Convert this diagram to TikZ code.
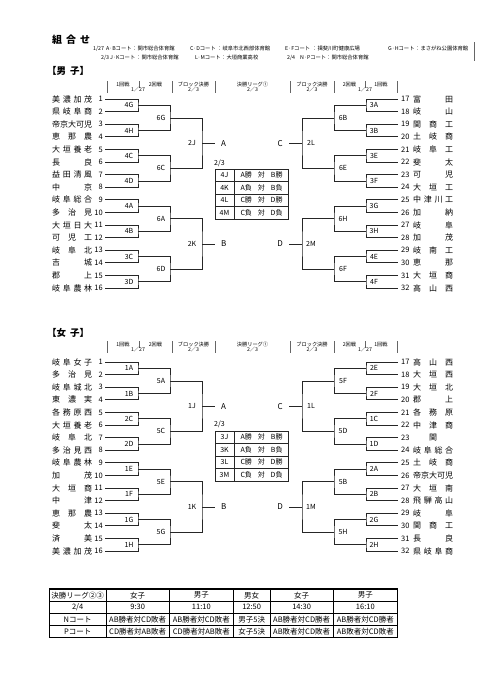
\documentclass[tikz,border=0pt]{standalone}
\usepackage{fontspec}
\setmainfont{Noto Sans CJK JP}
\usetikzlibrary{calc}
\usetikzlibrary{positioning}

\newcommand\tname[1]{\makebox[40pt][s]{#1}}
\newcommand\vsname[1]{\makebox[42pt][s]{#1}}

\begin{document}
\begin{tikzpicture}[x=1pt,y=-1pt]
	\useasboundingbox (0,0) rectangle (481,680);

	\tikzstyle{team} = [inner sep=0pt,font=\fontsize{8}{9}\selectfont]
	\tikzstyle{num} = [inner sep=0pt,font=\fontsize{7.5}{9}\selectfont]
	\tikzstyle{mlbl} = [inner sep=0pt,font=\fontsize{7}{8}\selectfont]
	\tikzstyle{grp} = [inner ysep=0pt,inner xsep=6pt,font=\fontsize{8}{9}\selectfont]
	\tikzstyle{wire} = [line width=0.75pt,black!85]
	\tikzstyle{hbar} = [line width=0.5pt,black!60]
	\tikzstyle{hdr} = [inner sep=0pt,font=\fontsize{5.2}{6}\selectfont]
	\tikzstyle{info} = [inner sep=0pt,anchor=west,font=\fontsize{5.3}{6}\selectfont]
	\tikzstyle{cell} = [inner sep=0pt,font=\fontsize{7}{8}\selectfont]
	\tikzstyle{tcell} = [inner sep=0pt,font=\fontsize{7.5}{8}\selectfont]

	% title and venues
	\node[inner sep=0pt,anchor=west,font=\fontsize{10}{11}\selectfont\bfseries] (title) at (52,40) {\makebox[38pt][s]{組 合 せ}};
	\node[info] (v1) at (93,48.5) {1/27};
	\node[info] (v2) at (106,48.5) {A·Bコート};
	\node[info] (v3) at (132,48.5) {：関市総合体育館};
	\node[info] (v4) at (190,48.5) {C·Dコート};
	\node[info] (v5) at (217,48.5) {：岐阜市北西部体育館};
	\node[info] (v6) at (285,48.5) {E·Fコート};
	\node[info] (v7) at (312,48.5) {：揖斐川町健康広場};
	\node[info] (v8) at (388,48.5) {G·Hコート};
	\node[info] (v9) at (415,48.5) {：まさがね公園体育館};
	\node[info] (w1) at (101,57.5) {2/3};
	\node[info] (w2) at (110,57.5) {J·Kコート};
	\node[info] (w3) at (136,57.5) {：関市総合体育館};
	\node[info] (w4) at (195,57.5) {L·Mコート};
	\node[info] (w5) at (221,57.5) {：大垣商業高校};
	\node[info] (w6) at (287,57.5) {2/4};
	\node[info] (w7) at (300,57.5) {N·Pコート};
	\node[info] (w8) at (326,57.5) {：関市総合体育館};
	\draw[hbar] (474,42) -- (474,61);

	\node[inner sep=0pt,anchor=west,font=\fontsize{9.5}{10}\selectfont\bfseries] (male) at (47,71) {【男\hspace{4pt}子】};
	\node[inner sep=0pt,anchor=west,font=\fontsize{9.5}{10}\selectfont\bfseries] (female) at (47,333) {【女\hspace{4pt}子】};

	% round headers
	\foreach \h in {81,341}{
		\foreach \x in {107,172,215,290,334,397}
			\draw[hbar] (\x,\h) -- (\x,{\h+12});
		\draw[hbar] (139,\h) -- (139,{\h+6.5});
		\draw[hbar] (365,\h) -- (365,{\h+6.5});
		\node[hdr] (r1a\h) at (123,{\h+3.4}) {1回戦};
		\node[hdr] (r2a\h) at (155.5,{\h+3.4}) {2回戦};
		\node[hdr] (d1a\h) at (138,{\h+8.8}) {1／27};
		\node[hdr] (bfa\h) at (193.5,{\h+3.4}) {ブロック決勝};
		\node[hdr] (dba\h) at (193.5,{\h+8.8}) {2／3};
		\node[hdr] (fl\h) at (252.5,{\h+3.4}) {決勝リーグ①};
		\node[hdr] (dl\h) at (252.5,{\h+8.8}) {2／3};
		\node[hdr] (bfb\h) at (312,{\h+3.4}) {ブロック決勝};
		\node[hdr] (dbb\h) at (312,{\h+8.8}) {2／3};
		\node[hdr] (r2b\h) at (349.5,{\h+3.4}) {2回戦};
		\node[hdr] (r1b\h) at (381,{\h+3.4}) {1回戦};
		\node[hdr] (d1b\h) at (365,{\h+8.8}) {1／27};
	}

	% male teams
	\foreach \n/\t in {1/美 濃 加 茂,2/県 岐 阜 商,3/帝京大可児,4/恵 那 農,5/大 垣 養 老,6/長 良,7/益 田 清 風,8/中 京,
		9/岐 阜 総 合,10/多 治 見,11/大 垣 日 大,12/可 児 工,13/岐 阜 北,14/吉 城,15/郡 上,16/岐 阜 農 林}{
		\pgfmathsetmacro\yy{99+(\n-1)*12.6}
		\node[team,anchor=west] (mt\n) at (52,\yy) {\tname{\t}};
		\node[num,anchor=east] (mn\n) at (103,\yy) {\n};
		\coordinate (m\n) at (105,\yy);
	}
	\foreach \n/\t in {17/富 田,18/岐 山,19/関 商 工,20/土 岐 商,21/岐 阜 工,22/斐 太,23/可 児,24/大 垣 工,
		25/中 津 川 工,26/加 納,27/岐 阜,28/加 茂,29/岐 南 工,30/恵 那,31/大 垣 商,32/高 山 西}{
		\pgfmathsetmacro\yy{99+(\n-17)*12.6}
		\node[num,anchor=west] (mn\n) at (401,\yy) {\n};
		\node[team,anchor=west] (mt\n) at (413,\yy) {\tname{\t}};
		\coordinate (m\n) at (398,\yy);
	}

	% male matches
	\foreach \l/\a/\b/\s/\o in {4G/1/2/33/-9,4H/3/4/33/-9,4C/5/6/33/-9,4D/7/8/33/-9,
		4A/9/10/33/-9,4B/11/12/33/-9,3C/13/14/33/-9,3D/15/16/33/-9,
		3A/17/18/-32/8,3B/19/20/-32/8,3E/21/22/-32/8,3F/23/24/-32/8,
		3G/25/26/-32/8,3H/27/28/-32/8,4E/29/30/-32/8,4F/31/32/-32/8,
		6G/4G/4H/32/-9,6C/4C/4D/32/-9,6A/4A/4B/32/-9,6D/3C/3D/32/-9,
		6B/3A/3B/-32/9,6E/3E/3F/-32/9,6H/3G/3H/-32/9,6F/4E/4F/-32/9,
		2J/6G/6C/32/-10,2K/6A/6D/32/-10,2L/6B/6E/-32/9,2M/6H/6F/-32/9}{
		\coordinate (m\l) at ($(m\a)!0.5!(m\b)+(\s,0)$);
		\draw[wire] (m\a) -| (m\l) |- (m\b);
		\node[mlbl] (ml\l) at ($(m\l)+(\o,0)$) {\l};
	}
	\node[grp,anchor=west] (mA) at ($(m2J)+(13,0)$) {A};
	\node[grp,anchor=west] (mB) at ($(m2K)+(13,0)$) {B};
	\node[grp,anchor=east] (mC) at ($(m2L)+(-13,0)$) {C};
	\node[grp,anchor=east] (mD) at ($(m2M)+(-13,0)$) {D};
	\draw[wire] (m2J) -- (mA);
	\draw[wire] (m2K) -- (mB);
	\draw[wire] (m2L) -- (mC);
	\draw[wire] (m2M) -- (mD);

	% male league table
	\node[cell,anchor=west] (mdate) at (214,163) {2/3};
	\draw[wire] (215,169) rectangle (288,219);
	\draw[wire] (234,169) -- (234,219);
	\foreach \y in {181.5,194,206.5}
		\draw[wire] (215,\y) -- (288,\y);
	\foreach \c/\t [count=\k] in {4J/A勝 対 B勝,4K/A負 対 B負,4L/C勝 対 D勝,4M/C負 対 D負}{
		\node[cell] (mc\c) at (224.5,{162.75+12.5*\k}) {\c};
		\node[cell] (mv\c) at (261.5,{162.75+12.5*\k}) {\vsname{\t}};
	}

	% female teams
	\foreach \n/\t in {1/岐 阜 女 子,2/多 治 見,3/岐 阜 城 北,4/東 濃 実,5/各 務 原 西,6/大 垣 養 老,7/岐 阜 北,8/多 治 見 西,
		9/岐 阜 農 林,10/加 茂,11/大 垣 商,12/中 津,13/恵 那 農,14/斐 太,15/済 美,16/美 濃 加 茂}{
		\pgfmathsetmacro\yy{362+(\n-1)*12.6}
		\node[team,anchor=west] (ft\n) at (52,\yy) {\tname{\t}};
		\node[num,anchor=east] (fn\n) at (103,\yy) {\n};
		\coordinate (f\n) at (105,\yy);
	}
	\foreach \n/\t in {17/高 山 西,18/大 垣 西,19/大 垣 北,20/郡 上,21/各 務 原,22/中 津 商,23/\hfil 関\hfil,24/岐 阜 総 合,
		25/土 岐 商,26/帝京大可児,27/大 垣 南,28/飛 騨 高 山,29/岐 阜,30/関 商 工,31/長 良,32/県 岐 阜 商}{
		\pgfmathsetmacro\yy{362+(\n-17)*12.6}
		\node[num,anchor=west] (fn\n) at (401,\yy) {\n};
		\node[team,anchor=west] (ft\n) at (413,\yy) {\tname{\t}};
		\coordinate (f\n) at (398,\yy);
	}

	% female matches
	\foreach \l/\a/\b/\s/\o in {1A/1/2/33/-9,1B/3/4/33/-9,2C/5/6/33/-9,2D/7/8/33/-9,
		1E/9/10/33/-9,1F/11/12/33/-9,1G/13/14/33/-9,1H/15/16/33/-9,
		2E/17/18/-32/8,2F/19/20/-32/8,1C/21/22/-32/8,1D/23/24/-32/8,
		2A/25/26/-32/8,2B/27/28/-32/8,2G/29/30/-32/8,2H/31/32/-32/8,
		5A/1A/1B/32/-9,5C/2C/2D/32/-9,5E/1E/1F/32/-9,5G/1G/1H/32/-9,
		5F/2E/2F/-32/9,5D/1C/1D/-32/9,5B/2A/2B/-32/9,5H/2G/2H/-32/9,
		1J/5A/5C/32/-10,1K/5E/5G/32/-10,1L/5F/5D/-32/9,1M/5B/5H/-32/9}{
		\coordinate (f\l) at ($(f\a)!0.5!(f\b)+(\s,0)$);
		\draw[wire] (f\a) -| (f\l) |- (f\b);
		\node[mlbl] (fl\l) at ($(f\l)+(\o,0)$) {\l};
	}
	\node[grp,anchor=west] (fA) at ($(f1J)+(13,0)$) {A};
	\node[grp,anchor=west] (fB) at ($(f1K)+(13,0)$) {B};
	\node[grp,anchor=east] (fC) at ($(f1L)+(-13,0)$) {C};
	\node[grp,anchor=east] (fD) at ($(f1M)+(-13,0)$) {D};
	\draw[wire] (f1J) -- (fA);
	\draw[wire] (f1K) -- (fB);
	\draw[wire] (f1L) -- (fC);
	\draw[wire] (f1M) -- (fD);

	% female league table
	\node[cell,anchor=west] (fdate) at (214,424.5) {2/3};
	\draw[wire] (215,431) rectangle (288,481);
	\draw[wire] (234,431) -- (234,481);
	\foreach \y in {443.5,456,468.5}
		\draw[wire] (215,\y) -- (288,\y);
	\foreach \c/\t [count=\k] in {3J/A勝 対 B勝,3K/A負 対 B負,3L/C勝 対 D勝,3M/C負 対 D負}{
		\node[cell] (fc\c) at (224.5,{424.75+12.5*\k}) {\c};
		\node[cell] (fv\c) at (261.5,{424.75+12.5*\k}) {\vsname{\t}};
	}

	% final league schedule
	\foreach \x in {106,169.3,233.3,270,333.3}
		\draw[line width=0.6pt] (\x,589) -- (\x,637.7);
	\foreach \y in {601.3,613.3,625.3}
		\draw[line width=0.6pt] (49.3,\y) -- (397.3,\y);
	\draw[line width=1.1pt] (49.3,589) rectangle (397.3,637.7);
	\foreach \x/\t [count=\k] in {77.7/決勝リーグ②③,137.7/女子,201.3/男子,251.7/男女,301.7/女子,365.3/男子}
		\node[tcell] (sa\k) at (\x,595.2) {\t};
	\foreach \x/\t [count=\k] in {77.7/{2/4},137.7/9:30,201.3/11:10,251.7/12:50,301.7/14:30,365.3/16:10}
		\node[tcell] (sb\k) at (\x,607.3) {\t};
	\foreach \x/\t [count=\k] in {77.7/Nコート,137.7/AB勝者対CD敗者,201.3/AB勝者対CD敗者,251.7/男子5決,301.7/AB勝者対CD勝者,365.3/AB勝者対CD勝者}
		\node[tcell] (sc\k) at (\x,619.3) {\t};
	\foreach \x/\t [count=\k] in {77.7/Pコート,137.7/CD勝者対AB敗者,201.3/CD勝者対AB敗者,251.7/女子5決,301.7/AB敗者対CD敗者,365.3/AB敗者対CD敗者}
		\node[tcell] (sd\k) at (\x,631.5) {\t};

\end{tikzpicture}
\end{document}
